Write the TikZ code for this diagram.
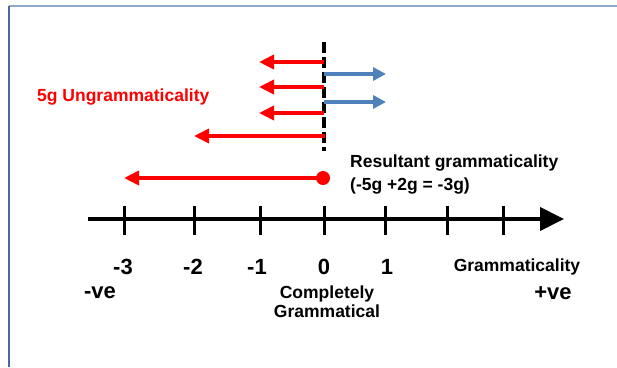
\documentclass[tikz,border=0pt]{standalone}
\usepackage{fontspec}
\setmainfont{Liberation Sans}
\usetikzlibrary{arrows.meta}
\definecolor{myred}{RGB}{255,0,0}
\definecolor{myblue}{RGB}{79,129,189}
\definecolor{frametop}{RGB}{140,168,204}
\definecolor{frameleft}{RGB}{70,105,160}
\begin{document}
\begin{tikzpicture}[x=1pt,y=-1pt,
  redarrow/.style={draw=myred,line width=4pt,-{Triangle[length=15pt,width=14pt]}},
  bluearrow/.style={draw=myblue,line width=4pt,-{Triangle[length=13pt,width=13pt]}},
  axisline/.style={draw=black,line width=4pt,-{Triangle[length=24pt,width=23pt]}},
  tickmark/.style={draw=black,line width=3pt},
  lbl/.style={font=\fontsize{17.5}{20}\selectfont\bfseries,inner sep=0pt},
  biglbl/.style={font=\fontsize{22}{25}\selectfont\bfseries,inner sep=0pt},
  framel/.style={line width=1.2pt}]
\useasboundingbox (0,0) rectangle (617,367);
% frame
\draw[framel,frametop] (9,6) -- (617,6);
\draw[framel,frameleft] (9,6) -- (9,367);
% dashed zero line
\coordinate (dtop) at (324,42);
\coordinate (dbot) at (324,151);
\draw[black,line width=3.5pt,dash pattern=on 11pt off 4pt] (dtop) -- (dbot);
% red arrows
\coordinate (r1s) at (324,62); \coordinate (r1e) at (259,62);
\coordinate (r2s) at (324,87); \coordinate (r2e) at (259,87);
\coordinate (r3s) at (324,113); \coordinate (r3e) at (259,113);
\coordinate (r4s) at (325,136); \coordinate (r4e) at (194,136);
\draw[redarrow] (r1s) -- (r1e);
\draw[redarrow] (r2s) -- (r2e);
\draw[redarrow] (r3s) -- (r3e);
\draw[redarrow] (r4s) -- (r4e);
% blue arrows
\coordinate (b1s) at (324,74); \coordinate (b1e) at (386,74);
\coordinate (b2s) at (324,102); \coordinate (b2e) at (386,102);
\draw[bluearrow] (b1s) -- (b1e);
\draw[bluearrow] (b2s) -- (b2e);
% resultant
\node[circle,fill=myred,minimum size=14pt,inner sep=0pt] (dot) at (323,178) {};
\coordinate (rese) at (124,178);
\draw[redarrow] (dot.center) -- (rese);
% axis
\coordinate (ax0) at (88,219);
\coordinate (ax1) at (564,219);
\draw[axisline] (ax0) -- (ax1);
\foreach \x in {124,194,260,324,385,447,503}
  \draw[tickmark] (\x,206) -- (\x,235);
% labels
\node[lbl,text=myred,anchor=west] (ungr) at (37,97) {5g Ungrammaticality};
\node[lbl,anchor=west] (res1) at (350,163) {Resultant grammaticality};
\node[lbl,anchor=west] (res2) at (350,186) {(-5g +2g = -3g)};
\node[biglbl] (m3) at (123,267) {-3};
\node[biglbl] (m2) at (193,267) {-2};
\node[biglbl] (m1) at (257,267) {-1};
\node[biglbl] (z0) at (324,267) {0};
\node[biglbl] (p1) at (387,267) {1};
\node[lbl] (gram) at (517,267) {Grammaticality};
\node[biglbl] (neg) at (100,293) {-ve};
\node[biglbl] (pos) at (553,293) {+ve};
\node[lbl,align=center] (comp) at (327,302) {Completely\\[-1pt]Grammatical};
\end{tikzpicture}
\end{document}
